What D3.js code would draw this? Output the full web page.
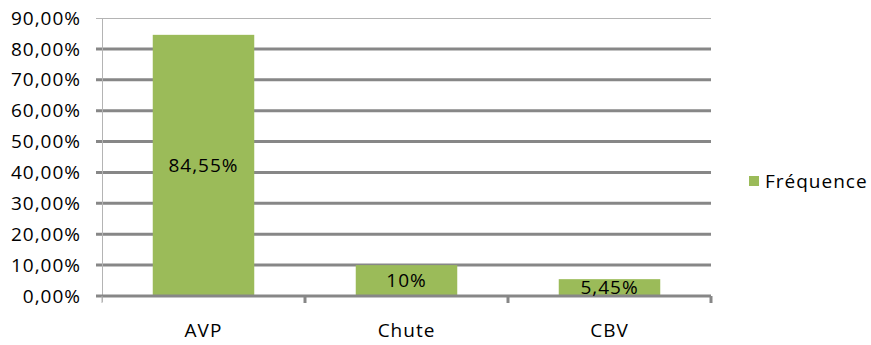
<!DOCTYPE html>
<html>
<head>
<meta charset="utf-8">
<script src="https://cdn.jsdelivr.net/npm/d3@7"></script>
<style>
  body { margin: 0; background: #fff; }
  text { font-family: "Open Sans", Lato, sans-serif; fill: #000; letter-spacing: 1px; }
</style>
</head>
<body>
<div id="chart"></div>
<script>
var categories = ['AVP', 'Chute', 'CBV']
var values = [84.55, 10, 5.45]
var valueLabels = ['84,55%', '10%', '5,45%']
var yTicks = [0, 10, 20, 30, 40, 50, 60, 70, 80, 90]
var seriesName = 'Fréquence'

function drawChart() {

    var width = 871, height = 345
    var plotLeft = 102, plotRight = 711, plotTop = 18, plotBottom = 296
    var fontSize = '19px'

    var svg = d3.select('#chart')
        .append('svg')
        .attr('width', width)
        .attr('height', height)

    var x = d3.scaleBand()
        .domain(categories)
        .range([plotLeft, plotRight])
        .paddingInner(0.5)
        .paddingOuter(0.25)

    var y = d3.scaleLinear()
        .domain([0, 90])
        .range([plotBottom, plotTop])

    // gridlines
    svg.append('g')
        .selectAll('line')
        .data(yTicks.filter(function(d) { return d > 0 && d < 90 }))
        .enter()
        .append('line')
        .attr('x1', plotLeft - 6)
        .attr('x2', plotRight)
        .attr('y1', function(d) { return y(d) })
        .attr('y2', function(d) { return y(d) })
        .attr('stroke', '#878787')
        .attr('stroke-width', 3)

    // top line thin
    svg.append('line')
        .attr('x1', plotLeft - 6).attr('x2', plotRight)
        .attr('y1', y(90) + 0.5).attr('y2', y(90) + 0.5)
        .attr('stroke', '#b4b4b4')
        .attr('stroke-width', 1)

    // y axis line
    svg.append('line')
        .attr('x1', plotLeft + 0.5).attr('x2', plotLeft + 0.5)
        .attr('y1', y(90)).attr('y2', plotBottom + 6)
        .attr('stroke', '#b4b4b4')
        .attr('stroke-width', 1)

    // y labels
    svg.append('g')
        .selectAll('text')
        .data(yTicks)
        .enter()
        .append('text')
        .attr('x', plotLeft - 21)
        .attr('y', function(d) { return y(d) })
        .attr('dy', '0.35em')
        .attr('text-anchor', 'end')
        .style('font-size', fontSize)
        .text(function(d) { return d.toFixed(2).replace('.', ',') + '%' })

    // bars
    svg.append('g')
        .selectAll('rect')
        .data(values)
        .enter()
        .append('rect')
        .attr('x', function(d, i) { return x(categories[i]) })
        .attr('width', x.bandwidth())
        .attr('y', function(d) { return y(d) })
        .attr('height', function(d) { return plotBottom - y(d) })
        .attr('fill', '#9bbb59')

    // x axis
    svg.append('line')
        .attr('x1', plotLeft - 6).attr('x2', plotRight)
        .attr('y1', plotBottom).attr('y2', plotBottom)
        .attr('stroke', '#878787')
        .attr('stroke-width', 3)

    var step = (plotRight - plotLeft) / categories.length
    svg.append('g')
        .selectAll('line')
        .data(d3.range(categories.length + 1))
        .enter()
        .append('line')
        .attr('x1', function(i) { return plotLeft + i * step })
        .attr('x2', function(i) { return plotLeft + i * step })
        .attr('y1', plotBottom)
        .attr('y2', plotBottom + 7)
        .attr('stroke', function(i) { return i == 0 ? '#b4b4b4' : '#878787' })
        .attr('stroke-width', function(i) { return i == 0 ? 1 : 3 })

    // category labels
    svg.append('g')
        .selectAll('text')
        .data(categories)
        .enter()
        .append('text')
        .attr('x', function(d) { return x(d) + x.bandwidth() / 2 })
        .attr('y', 330)
        .attr('dy', '0.35em')
        .attr('text-anchor', 'middle')
        .style('font-size', fontSize)
        .text(function(d) { return d })

    // value labels
    svg.append('g')
        .selectAll('text')
        .data(values)
        .enter()
        .append('text')
        .attr('x', function(d, i) { return x(categories[i]) + x.bandwidth() / 2 })
        .attr('y', function(d) { return Math.min((y(d) + plotBottom) / 2, plotBottom - 7) })
        .attr('dy', '0.35em')
        .attr('text-anchor', 'middle')
        .style('font-size', fontSize)
        .text(function(d, i) { return valueLabels[i] })

    // legend
    var legend = svg.append('g').attr('transform', 'translate(749,176)')
    legend.append('rect')
        .attr('width', 10).attr('height', 10)
        .attr('fill', '#9bbb59')
    legend.append('text')
        .attr('x', 16).attr('y', 5)
        .attr('dy', '0.35em')
        .style('font-size', fontSize)
        .text(seriesName)
}

drawChart()
</script>
</body>
</html>
